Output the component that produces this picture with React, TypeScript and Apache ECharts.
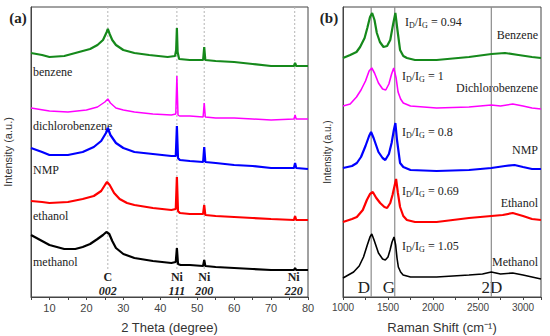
import React, { useEffect, useRef } from "react";
import * as echarts from "echarts";

// ---- Panel (a): XRD patterns, [2theta, intensity (a.u.)] ----
const xrdBenzene: [number, number][] = [
  [5, 244], [8, 242], [10, 240], [14, 241], [18, 245], [21, 248], [23, 252], [24.5, 257], [25.5, 265], [25.8, 268],
  [26.3, 263], [27, 257], [28, 252], [30, 247], [33, 244], [37, 242], [42, 240], [44, 241], [44.3, 247], [44.5, 269],
  [44.7, 245], [45.1, 238], [48, 237], [51.6, 237], [51.9, 250], [52.2, 237], [55, 236], [60, 235], [65, 233],
  [70, 231], [76.2, 231], [76.5, 234], [76.8, 231], [80, 231],
];
const xrdDichlorobenzene: [number, number][] = [
  [5, 189], [10, 186], [15, 185], [20, 187], [23, 190], [25, 195], [25.8, 198], [26.5, 194], [28, 189], [30, 187],
  [33, 185], [38, 183], [43, 182], [44.2, 183], [44.5, 221], [44.8, 182], [45.2, 181], [48, 181], [51.6, 180],
  [51.9, 194], [52.2, 180], [55, 179], [60, 179], [65, 178], [70, 177], [76.2, 178], [76.5, 182], [76.8, 178], [80, 178],
];
const xrdNMP: [number, number][] = [
  [5, 149], [8, 145], [10, 142], [15, 142], [19, 145], [22, 150], [24, 156], [25.3, 164], [25.8, 169], [26.5, 162],
  [28, 154], [30, 149], [33, 145], [38, 143], [43, 141], [44.2, 141], [44.5, 171], [44.8, 139], [45.3, 137], [48, 136],
  [51.6, 135], [51.9, 150], [52.2, 135], [55, 134], [60, 132], [65, 131], [70, 129], [76.2, 129], [76.5, 134],
  [76.8, 129], [80, 128],
];
const xrdEthanol: [number, number][] = [
  [5, 96], [8, 95], [10, 94], [15, 95], [19, 98], [22, 101], [24, 106], [25.2, 113], [25.6, 115], [26.3, 112],
  [27.5, 104], [29, 98], [31, 94], [33, 92], [38, 89], [43, 87], [44.2, 88], [44.5, 120], [44.8, 86], [45.3, 84],
  [48, 83], [51.6, 83], [51.9, 92], [52.2, 82], [55, 81], [60, 80], [65, 79], [70, 78], [76.2, 77], [76.5, 81],
  [76.8, 77], [80, 77],
];
const xrdMethanol: [number, number][] = [
  [5, 62], [6, 60], [8, 56], [10, 52], [14, 48], [17, 48], [19, 50], [21, 53], [23, 58], [24.5, 62], [25.4, 65],
  [26.2, 63], [27, 56], [28, 49], [30, 43], [33, 39], [38, 36], [43, 34], [44.2, 35], [44.5, 49], [44.8, 33],
  [45.5, 32], [48, 32], [51.6, 31], [51.9, 37], [52.2, 31], [55, 30], [60, 29], [65, 28], [70, 27], [76.2, 27],
  [76.5, 29], [76.8, 27], [80, 27],
];
const xrdPeaks = [25.8, 44.5, 51.9, 76.4];
const xrdPeakNames = ["C", "Ni", "Ni", "Ni"];
const xrdPeakHkl = ["002", "111", "200", "220"];
const xrdSampleNames = ["benzene", "dichlorobenzene", "NMP", "ethanol", "methanol"];

// ---- Panel (b): Raman spectra, [shift cm-1, intensity (a.u.)] ----
const ramanBenzene: [number, number][] = [
  [1000, 239], [1080, 242], [1150, 245], [1190, 250], [1240, 259], [1270, 269], [1300, 280], [1324, 284], [1350, 277],
  [1376, 264], [1410, 255], [1450, 250], [1490, 251], [1525, 257], [1555, 272], [1582, 284], [1605, 267],
  [1634, 247], [1670, 241], [1710, 239], [1800, 237], [2040, 237], [2400, 240], [2650, 243], [2800, 244],
  [2950, 242], [3100, 240], [3200, 239],
];
const ramanDichlorobenzene: [number, number][] = [
  [1000, 191], [1080, 193], [1150, 200], [1200, 207], [1250, 216], [1290, 226], [1320, 229], [1350, 224],
  [1394, 214], [1440, 208], [1475, 207], [1510, 213], [1540, 223], [1564, 229], [1590, 219], [1612, 205],
  [1640, 198], [1670, 194], [1750, 191], [2040, 189], [2400, 190], [2648, 192], [2750, 191], [2886, 193],
  [3000, 191], [3100, 189], [3200, 188],
];
const ramanNMP: [number, number][] = [
  [1000, 129], [1100, 131], [1154, 134], [1200, 140], [1250, 151], [1290, 161], [1312, 165], [1340, 159],
  [1394, 145], [1440, 139], [1470, 137], [1510, 143], [1540, 154], [1565, 167], [1582, 174], [1600, 157],
  [1634, 134], [1670, 130], [1750, 127], [2040, 126], [2400, 127], [2648, 129], [2800, 131], [2906, 132],
  [3000, 130], [3100, 128], [3200, 128],
];
const ramanEthanol: [number, number][] = [
  [1000, 75], [1100, 78], [1154, 80], [1220, 87], [1265, 97], [1300, 103], [1331, 105], [1370, 99], [1413, 94],
  [1460, 90], [1490, 89], [1525, 94], [1550, 102], [1575, 112], [1590, 118], [1610, 104], [1634, 90], [1670, 81],
  [1710, 77], [1800, 75], [2040, 75], [2400, 79], [2648, 81], [2775, 82], [2886, 84], [3000, 81], [3100, 78],
  [3200, 77],
];
const ramanMethanol: [number, number][] = [
  [1000, 19], [1118, 25], [1180, 31], [1228, 40], [1270, 52], [1300, 60], [1320, 63], [1345, 57], [1394, 44],
  [1440, 38], [1470, 37], [1500, 40], [1523, 47], [1545, 55], [1567, 60], [1585, 52], [1600, 39], [1615, 30],
  [1640, 25], [1668, 22], [1750, 20], [2040, 20], [2400, 22], [2550, 23], [2648, 25], [2750, 23], [2886, 24],
  [3000, 22], [3100, 20], [3200, 18],
];
const ramanBands = [1313, 1575, 2648];
const ramanBandNames = ["D", "G", "2D"];
const ramanSampleNames = ["Benzene", "Dichlorobenzene", "NMP", "Ethanol", "Methanol"];
const ramanRatios = ["0.94", "1", "0.8", "0.69", "1.05"];

const colors = ["#15891b", "#ff00ff", "#0000ff", "#ff0000", "#000000"];

const SERIF = "Liberation Serif";
const SANS = "Liberation Sans";

export default function App() {
  const ref = useRef<HTMLDivElement>(null);
  useEffect(() => {
    if (!ref.current) return;
    const chart = echarts.init(ref.current, undefined, { renderer: "svg" });
    const xrdSets = [xrdBenzene, xrdDichlorobenzene, xrdNMP, xrdEthanol, xrdMethanol];
    const ramanSets = [ramanBenzene, ramanDichlorobenzene, ramanNMP, ramanEthanol, ramanMethanol];

    const series: any[] = [];
    xrdPeaks.forEach((p) => {
      series.push({
        type: "line", xAxisIndex: 0, yAxisIndex: 0, symbol: "none", silent: true,
        data: [[p, 290], [p, 26]],
        lineStyle: { color: "#b5b5b5", width: 1, type: [2, 2] }, z: 1,
      });
    });
    ramanBands.forEach((p) => {
      series.push({
        type: "line", xAxisIndex: 1, yAxisIndex: 1, symbol: "none", silent: true,
        data: [[p, 290], [p, 0]],
        lineStyle: { color: "#8c8c8c", width: 1.2 }, z: 1,
      });
    });
    xrdSets.forEach((d, i) => {
      series.push({
        type: "line", xAxisIndex: 0, yAxisIndex: 0, symbol: "none", data: d,
        lineStyle: { color: colors[i], width: i === 1 ? 1.5 : 2.2 }, z: 2,
      });
    });
    ramanSets.forEach((d, i) => {
      series.push({
        type: "line", xAxisIndex: 1, yAxisIndex: 1, symbol: "none", data: d,
        lineStyle: { color: colors[i], width: i === 1 || i === 4 ? 1.6 : 2.2 }, z: 2,
      });
    });

    const graphics: any[] = [];
    const txt = (x: number, y: number, text: string, opts: any = {}) => ({
      type: "text", x, y, silent: true,
      style: {
        text, fill: opts.fill || "#222",
        fontFamily: SERIF, fontSize: opts.size || 12,
        fontWeight: opts.weight || "normal", fontStyle: opts.style || "normal",
        align: opts.align || "left", verticalAlign: "middle",
        textAlign: opts.align || "left", textVerticalAlign: "middle",
        rich: opts.rich,
      },
    });

    const axisCommon = (gridIndex: number) => ({
      gridIndex,
      axisLine: { show: true, lineStyle: { color: "#444", width: 1 } },
      splitLine: { show: false },
    });

    chart.setOption({
      animation: false,
      grid: [
        { left: 31, top: 7, width: 277, height: 290, show: true, borderColor: "#444", borderWidth: 1, containLabel: false, outerBoundsMode: "none" },
        { left: 343, top: 7, width: 198, height: 290, show: true, borderColor: "#444", borderWidth: 1, containLabel: false, outerBoundsMode: "none" },
      ],
      xAxis: [
        {
          ...axisCommon(0), type: "value", min: 5, max: 80, interval: 5,
          axisTick: { show: true, length: 3, lineStyle: { color: "#444" } },
          axisLabel: { formatter: (v: number) => (v % 10 === 0 ? String(v) : ""), color: "#444", fontFamily: SANS, fontSize: 11, margin: 5 },
          name: "2 Theta (degree)", nameLocation: "middle", nameGap: 24,
          nameTextStyle: { fontFamily: SANS, fontSize: 13, color: "#333" },
        },
        {
          ...axisCommon(1), type: "value", min: 1000, max: 3200, interval: 250,
          axisTick: { show: true, length: 3, lineStyle: { color: "#444" } },
          axisLabel: { formatter: (v: number) => (v % 500 === 0 ? String(v) : ""), color: "#444", fontFamily: SANS, fontSize: 10, margin: 5 },
          name: "Raman Shift (cm\u207B\u00B9)", nameLocation: "middle", nameGap: 24,
          nameTextStyle: { fontFamily: SANS, fontSize: 13, color: "#333" },
        },
      ],
      yAxis: [
        {
          ...axisCommon(0), type: "value", min: 0, max: 290,
          axisTick: { show: false }, axisLabel: { show: false },
          name: "Intensity (a.u.)", nameLocation: "middle", nameGap: 18, nameRotate: 90,
          nameTextStyle: { fontFamily: SANS, fontSize: 11, color: "#333" },
        },
        {
          ...axisCommon(1), type: "value", min: 0, max: 290,
          axisTick: { show: false }, axisLabel: { show: false },
          name: "Intensity (a.u.)", nameLocation: "middle", nameGap: 11, nameRotate: 90,
          nameTextStyle: { fontFamily: SANS, fontSize: 10, color: "#333" },
        },
      ],
      series,
    });

    // Panel labels
    graphics.push(txt(18, 18, "(a)", { size: 15, weight: "bold", align: "center" }));
    graphics.push(txt(329, 18, "(b)", { size: 15, weight: "bold", align: "center" }));

    // XRD sample labels
    const xrdLabelY = [72, 126, 170, 216, 262];
    xrdSampleNames.forEach((n, i) => graphics.push(txt(33, xrdLabelY[i], n, { size: 12 })));
    // XRD peak labels
    xrdPeaks.forEach((p, i) => {
      const px = chart.convertToPixel({ xAxisIndex: 0 }, p) as number;
      const cx = i === 3 ? px - 1 : px;
      graphics.push(txt(cx, 277, xrdPeakNames[i], { size: 12, weight: "bold", align: "center" }));
      graphics.push(txt(cx, 291, xrdPeakHkl[i], { size: 12, weight: "bold", style: "italic", align: "center" }));
    });

    // Raman labels
    const ratioY = [22, 76, 132, 191, 246];
    const ratioX = [405, 402, 402, 402, 402];
    ramanRatios.forEach((r, i) => {
      graphics.push(txt(ratioX[i], ratioY[i], `{m|I}{s|D}{m|/I}{s|G}{m| = ${r}}`, {
        rich: {
          m: { fontFamily: SERIF, fontSize: 12, fill: "#222", verticalAlign: "middle", lineHeight: 14 },
          s: { fontFamily: SERIF, fontSize: 8, fill: "#222", verticalAlign: "bottom", lineHeight: 2 },
        },
      }));
    });
    const nameY = [35, 88, 150, 203, 262];
    ramanSampleNames.forEach((n, i) => graphics.push(txt(538, nameY[i], n, { size: 12, align: "right" })));
    const bandLabelX = [364, 389, 492];
    ramanBandNames.forEach((n, i) => graphics.push(txt(bandLabelX[i], 287, n, { size: 17, align: "center" })));

    chart.setOption({ graphic: { elements: graphics } });
    return () => chart.dispose();
  }, []);
  return <div ref={ref} style={{ position: "fixed", left: 0, top: 0, width: 550, height: 336, background: "#fff" }} />;
}
